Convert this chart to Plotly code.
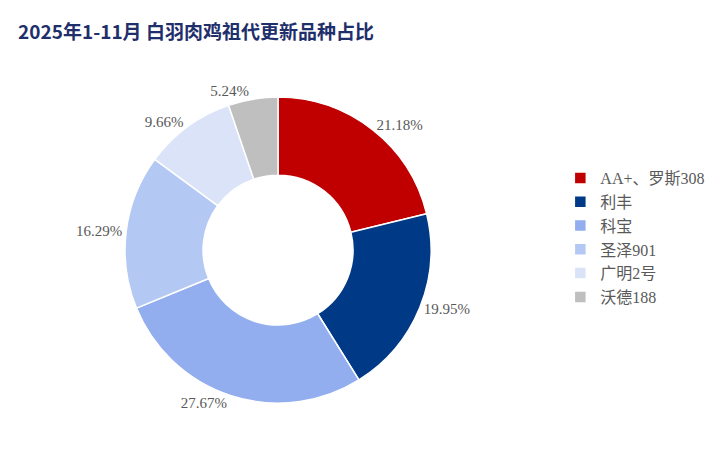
import plotly.graph_objects as go

labels = ["AA+、罗斯308", "利丰", "科宝", "圣泽901", "广明2号", "沃德188"]
values = [21.18, 19.95, 27.67, 16.29, 9.66, 5.24]
colors = ["#C00000", "#003A87", "#93AEEE", "#B4C8F4", "#DAE3F8", "#BFBFBF"]

fig = go.Figure(go.Pie(
    labels=labels, values=values, sort=False, direction="clockwise", rotation=0,
    hole=0.49, marker=dict(colors=colors, line=dict(color="white", width=1.5)),
    texttemplate="%{value:.2f}%", textposition="outside",
    textfont=dict(family="Liberation Serif", size=15, color="#595959"),
    domain=dict(x=[0.162, 0.586], y=[0.122, 0.802]), hoverinfo="label+value",
))
fig.update_layout(
    width=722, height=450, margin=dict(l=0, r=0, t=0, b=0),
    paper_bgcolor="white", plot_bgcolor="white",
    title=dict(text="<b>2025年1-11月 白羽肉鸡祖代更新品种占比</b>", x=0.014, y=0.945,
               xanchor="left", yanchor="middle",
               font=dict(family="Noto Sans CJK SC", size=19, color="#1F2F6B")),
    legend=dict(x=0.765, y=0.66, xanchor="left", yanchor="top",
                font=dict(family="Liberation Serif, Noto Sans CJK SC", size=16, color="#595959"),
                itemwidth=30, tracegroupgap=0),
)
fig.write_html("out.html")
